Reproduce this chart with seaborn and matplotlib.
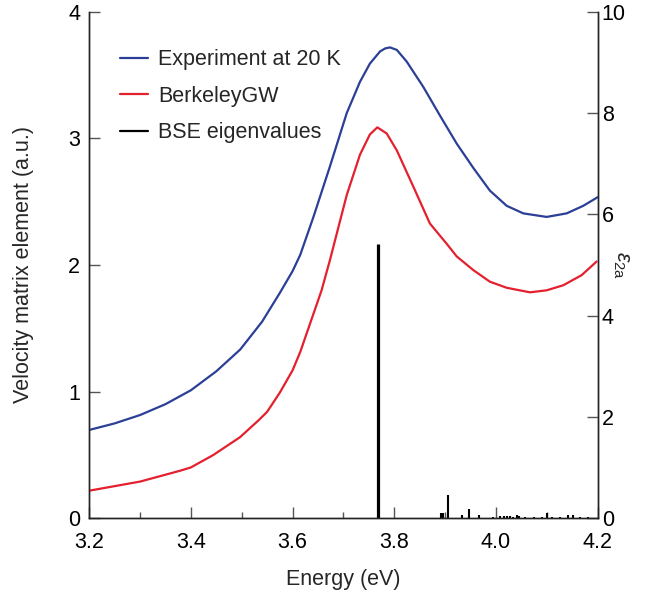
import matplotlib
matplotlib.use("Agg")
import matplotlib.pyplot as plt
from matplotlib.ticker import MultipleLocator
from matplotlib.lines import Line2D
import seaborn as sns
import pandas as pd

# ---- data ----
exp_energy = [3.200, 3.250, 3.300, 3.350, 3.400, 3.450, 3.497, 3.540, 3.575, 3.600,
              3.615, 3.641, 3.6735, 3.7064, 3.7325, 3.752, 3.772, 3.782, 3.7916, 3.805,
              3.8244, 3.857, 3.890, 3.9227, 3.9553, 3.988, 4.021, 4.0537, 4.0997, 4.139,
              4.1717, 4.200]
exp_eps2 = [1.74, 1.87, 2.035, 2.25, 2.525, 2.90, 3.33, 3.88, 4.45, 4.88,
            5.20, 5.95, 6.95, 8.00, 8.62, 8.98, 9.22, 9.28, 9.30, 9.25,
            9.02, 8.52, 7.95, 7.40, 6.92, 6.47, 6.17, 6.02, 5.95, 6.02,
            6.17, 6.34]

gw_energy = [3.200, 3.300, 3.379, 3.400, 3.444, 3.497, 3.510, 3.534, 3.550, 3.575,
             3.600, 3.615, 3.657, 3.6735, 3.7064, 3.7325, 3.752, 3.7666, 3.785, 3.8047,
             3.8374, 3.870, 3.903, 3.9227, 3.9553, 3.988, 4.021, 4.0669, 4.0997, 4.1324,
             4.1686, 4.198]
gw_eps2 = [0.54, 0.72, 0.935, 1.00, 1.245, 1.60, 1.72, 1.94, 2.10, 2.48,
           2.92, 3.28, 4.50, 5.10, 6.38, 7.18, 7.58, 7.72, 7.60, 7.27,
           6.55, 5.82, 5.42, 5.17, 4.90, 4.67, 4.55, 4.46, 4.50, 4.60,
           4.80, 5.07]

bse_energy = [3.767, 3.892, 3.896, 3.905, 3.934, 3.947, 3.967, 3.995, 4.008, 4.016,
              4.022, 4.028, 4.034, 4.041, 4.045, 4.057, 4.075, 4.090, 4.100, 4.110,
              4.125, 4.141, 4.151, 4.165, 4.180]
bse_velocity = [2.166, 0.04, 0.04, 0.18, 0.026, 0.07, 0.02, 0.01, 0.012, 0.015,
                0.012, 0.015, 0.01, 0.026, 0.015, 0.008, 0.008, 0.008, 0.042, 0.008,
                0.008, 0.02, 0.02, 0.008, 0.008]

labels = ["Experiment at 20 K", "BerkeleyGW", "BSE eigenvalues"]
x_ticks = [3.2, 3.4, 3.6, 3.8, 4.0, 4.2]
left_ticks = [0, 1, 2, 3, 4]
right_ticks = [0, 2, 4, 6, 8, 10]

blue = "#2b3f96"
red = "#e5202e"

sns.set_theme(style="ticks")
plt.rcParams["font.family"] = ["Liberation Sans", "DejaVu Sans"]
plt.rcParams["mathtext.fontset"] = "custom"
plt.rcParams["mathtext.rm"] = "Liberation Sans"
plt.rcParams["mathtext.it"] = "Liberation Sans:italic"

fig = plt.figure(figsize=(6.57, 5.99), dpi=100)
ax = fig.add_axes([0.1358, 0.1352, 0.7739, 0.8448])
ax2 = ax.twinx()

df_exp = pd.DataFrame({"E": exp_energy, "eps": exp_eps2})
df_gw = pd.DataFrame({"E": gw_energy, "eps": gw_eps2})
sns.lineplot(data=df_exp, x="E", y="eps", ax=ax2, color=blue, lw=1.6, sort=True)
sns.lineplot(data=df_gw, x="E", y="eps", ax=ax2, color=red, lw=1.6, sort=True)

lws = [2.3] + [1.5] * (len(bse_energy) - 1)
ax.vlines(bse_energy, 0, bse_velocity, colors="black", linewidths=lws)

ax.set_xlim(3.2, 4.2)
ax.set_ylim(0, 4)
ax2.set_ylim(0, 10)
ax.set_xticks(x_ticks)
ax.set_xticklabels([f"{t:.1f}" for t in x_ticks])
ax.xaxis.set_minor_locator(MultipleLocator(0.1))
ax.set_yticks(left_ticks)
ax2.set_yticks(right_ticks)

fs = 15.5
spine_c = "#222222"
tick_c = "#555555"
for a in (ax, ax2):
    for s in a.spines.values():
        s.set_color(spine_c)
        s.set_linewidth(1.0)
    a.spines["top"].set_visible(False)
ax.tick_params(axis="both", which="major", direction="in", length=8, width=1.0,
               color=tick_c, labelsize=fs, labelcolor="black")
ax.tick_params(axis="x", which="major", pad=10)
ax.tick_params(axis="y", which="major", pad=6.5)
ax.tick_params(axis="x", which="minor", direction="in", length=4, width=1.0, color=tick_c)
ax2.tick_params(axis="y", which="major", direction="in", length=8, width=1.0,
                color=tick_c, labelsize=fs, labelcolor="black", pad=3)
ax2.set_xlabel("")

ax.set_xlabel("Energy (eV)", fontsize=fs)
ax.xaxis.set_label_coords(0.5, -0.10)
ax.set_ylabel("Velocity matrix element (a.u.)", fontsize=fs)
ax.yaxis.set_label_coords(-0.108, 0.5)
ax2.set_ylabel(r"$\varepsilon_{\mathrm{2a}}$", fontsize=fs, rotation=270)
ax2.yaxis.set_label_coords(1.0675, 0.5)

handles = [Line2D([], [], color=blue, lw=1.6),
           Line2D([], [], color=red, lw=1.6),
           Line2D([], [], color="black", lw=1.6)]
leg = ax2.legend(handles, labels, loc="upper left", bbox_to_anchor=(0.022, 0.965),
                 frameon=False, fontsize=fs, handlelength=1.3, handletextpad=0.47,
                 labelspacing=0.72)

fig.savefig("out.png", dpi=100)
